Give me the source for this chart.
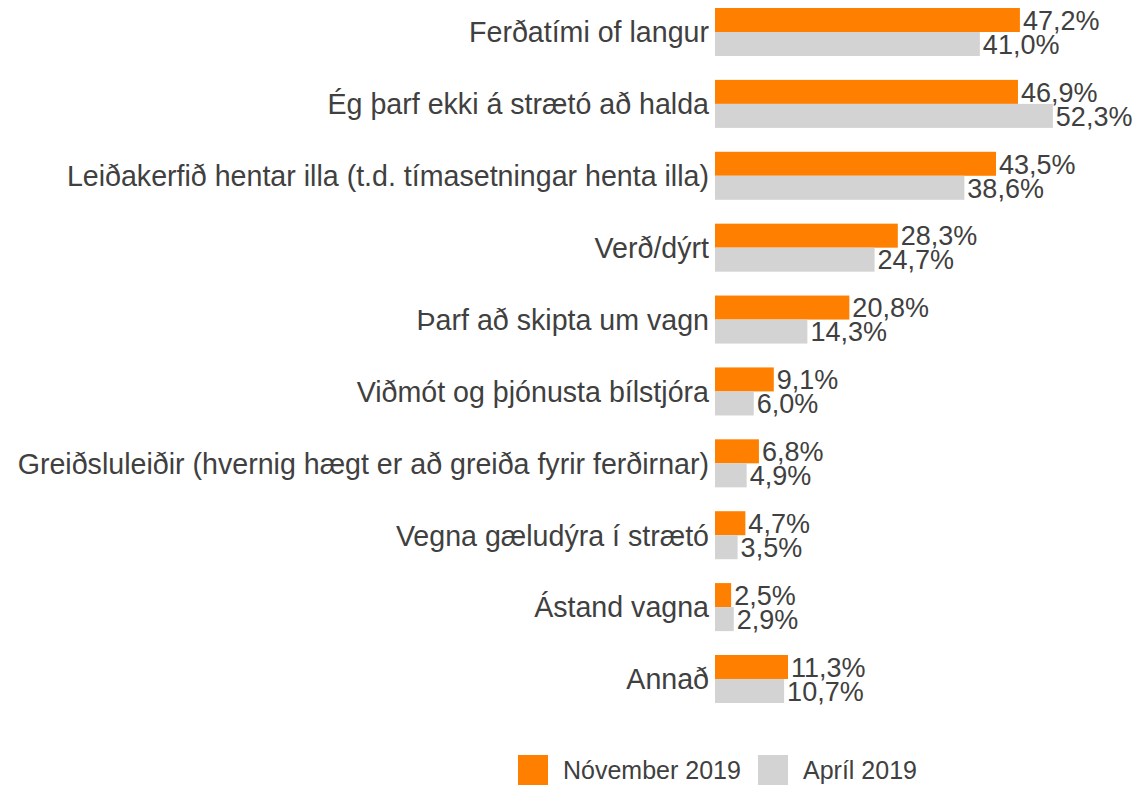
<!DOCTYPE html>
<html>
<head>
<meta charset="utf-8">
<script src="https://cdn.jsdelivr.net/npm/d3@7"></script>
<style>
  body { margin: 0; background: #ffffff; }
  .canvas { width: 1134px; height: 785px; }
  text { font-family: "Liberation Sans", Arial, sans-serif; fill: #404040; }
</style>
</head>
<body>
<div class="canvas" id="chart"></div>
<script>
var categories = [
  "Ferðatími of langur",
  "Ég þarf ekki á strætó að halda",
  "Leiðakerfið hentar illa (t.d. tímasetningar henta illa)",
  "Verð/dýrt",
  "Þarf að skipta um vagn",
  "Viðmót og þjónusta bílstjóra",
  "Greiðsluleiðir (hvernig hægt er að greiða fyrir ferðirnar)",
  "Vegna gæludýra í strætó",
  "Ástand vagna",
  "Annað"
];
var november2019 = [47.2, 46.9, 43.5, 28.3, 20.8, 9.1, 6.8, 4.7, 2.5, 11.3];
var april2019 = [41.0, 52.3, 38.6, 24.7, 14.3, 6.0, 4.9, 3.5, 2.9, 10.7];
var seriesNames = ["Nóvember 2019", "Apríl 2019"];
var seriesColors = ["#ff8000", "#d3d3d3"];

var width = 1134,
  height = 785;

var svg = d3
  .select("#chart")
  .append("svg")
  .attr("width", width)
  .attr("height", height);

var x0 = 715;
var x = d3
  .scaleLinear()
  .domain([0, 10])
  .range([x0, x0 + 64.6]);

var y = d3
  .scaleBand()
  .domain(categories)
  .range([8, 703])
  .paddingInner(0.332)
  .paddingOuter(0);

var sub = d3
  .scaleBand()
  .domain(seriesNames)
  .range([0, y.bandwidth()]);

var fmt = function(v) {
  return d3.format(".1f")(v).replace(".", ",") + "%";
};

var rows = categories.map(function(c, i) {
  return {
    name: c,
    values: [
      { series: seriesNames[0], value: november2019[i] },
      { series: seriesNames[1], value: april2019[i] }
    ]
  };
});

var group = svg
  .selectAll(".row")
  .data(rows)
  .enter()
  .append("g")
  .attr("class", "row")
  .attr("transform", function(d) {
    return "translate(0," + y(d.name) + ")";
  });

group
  .append("text")
  .attr("class", "catlabel")
  .attr("x", x0 - 6)
  .attr("y", y.bandwidth() / 2)
  .attr("dy", "0.36em")
  .attr("text-anchor", "end")
  .style("font-size", "28.6px")
  .text(function(d) {
    return d.name;
  });

group
  .selectAll(".bar")
  .data(function(d) {
    return d.values;
  })
  .enter()
  .append("rect")
  .attr("class", "bar")
  .attr("x", x(0))
  .attr("y", function(d) {
    return sub(d.series);
  })
  .attr("width", function(d) {
    return x(d.value) - x(0);
  })
  .attr("height", sub.bandwidth())
  .style("fill", function(d, i) {
    return seriesColors[i];
  });

group
  .selectAll(".vallabel")
  .data(function(d) {
    return d.values;
  })
  .enter()
  .append("text")
  .attr("class", "vallabel")
  .attr("x", function(d) {
    return x(d.value) + 3;
  })
  .attr("y", function(d) {
    return sub(d.series) + sub.bandwidth() / 2;
  })
  .attr("dy", "0.36em")
  .style("font-size", "27px")
  .text(function(d) {
    return fmt(d.value);
  });

var legendX = [518, 758];
var legend = svg
  .selectAll(".legend")
  .data(seriesNames)
  .enter()
  .append("g")
  .attr("class", "legend")
  .attr("transform", function(d, i) {
    return "translate(" + legendX[i] + ",755)";
  });

legend
  .append("rect")
  .attr("width", 30)
  .attr("height", 30)
  .style("fill", function(d, i) {
    return seriesColors[i];
  });

legend
  .append("text")
  .attr("x", 45)
  .attr("y", 15)
  .attr("dy", "0.36em")
  .style("font-size", "25px")
  .text(function(d) {
    return d;
  });
</script>
</body>
</html>
